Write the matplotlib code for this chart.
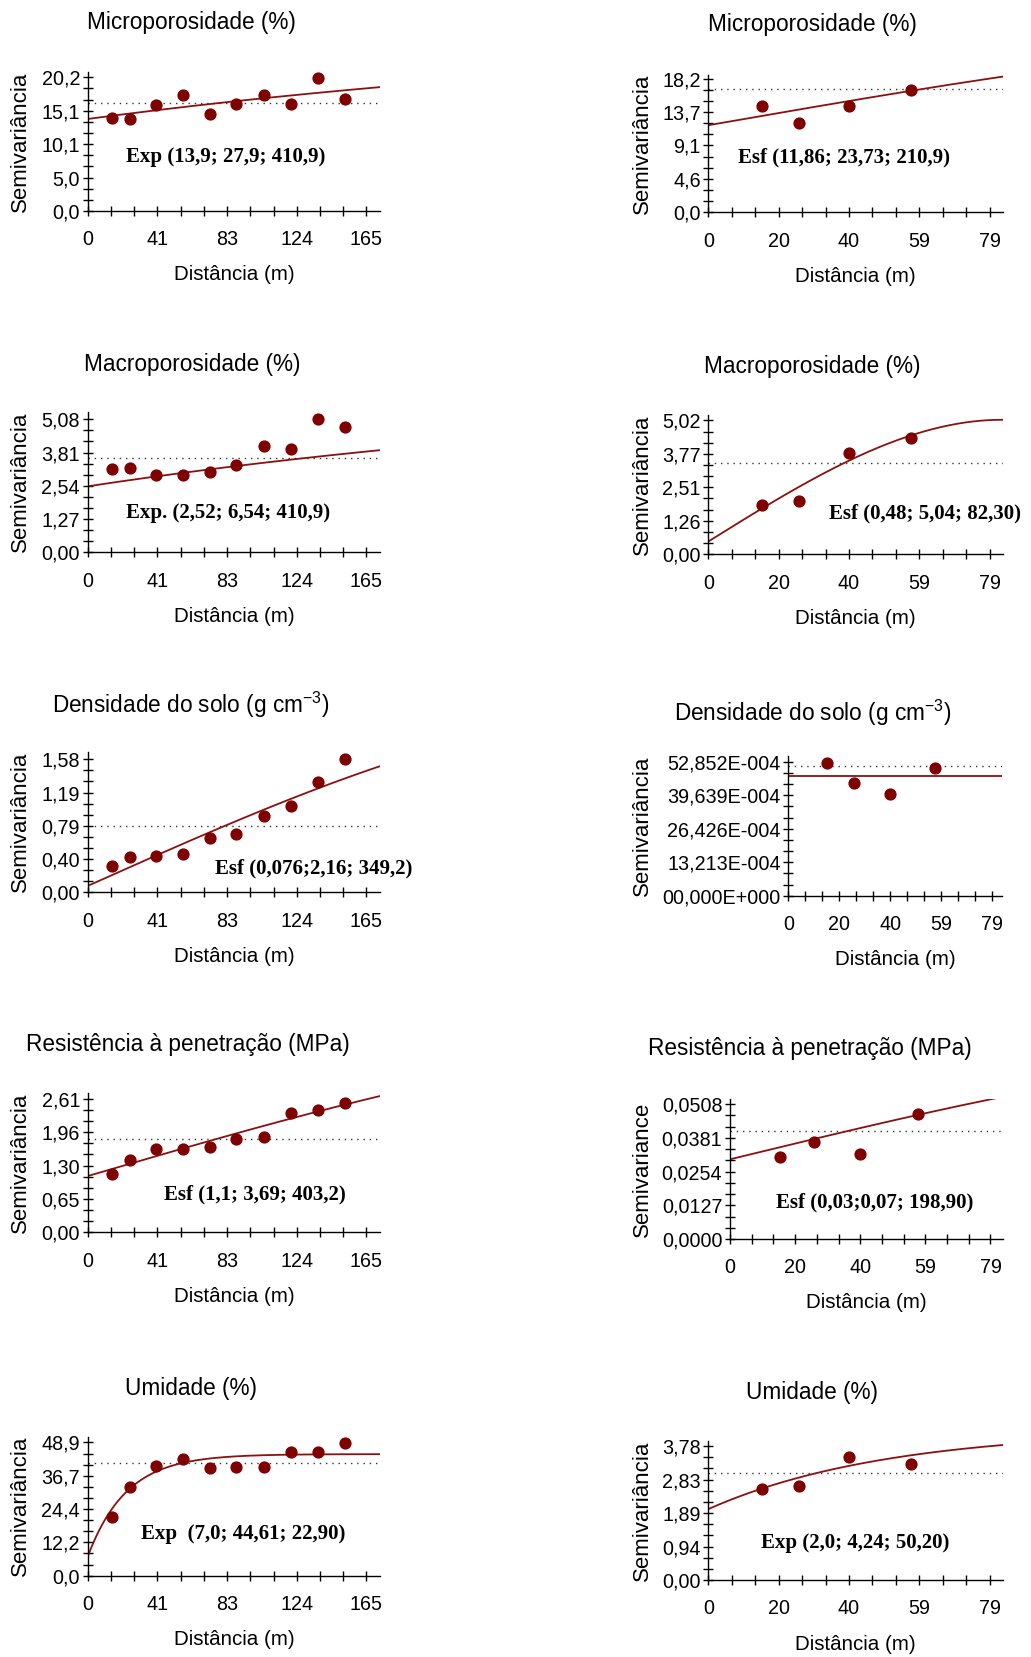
import numpy as np
import matplotlib
matplotlib.use("Agg")
import matplotlib.pyplot as plt

plt.rcParams["font.family"] = ["Liberation Sans", "DejaVu Sans"]
plt.rcParams["mathtext.fontset"] = "custom"
plt.rcParams["mathtext.rm"] = "Liberation Sans"

# ---- lag distances (m) ----
lag_esq = [14.5, 25.0, 40.5, 56.2, 72.2, 88.0, 104.2, 120.5, 136.2, 152.0]
lag_dir = [15.1, 25.4, 39.5, 57.0]

# ---- experimental semivariances ----
micro_esq = [14.1, 13.85, 15.97, 17.48, 14.66, 16.17, 17.48, 16.17, 20.1, 16.93]
micro_dir = [14.48, 12.12, 14.48, 16.66]
macro_esq = [3.17, 3.21, 2.96, 2.96, 3.07, 3.32, 4.06, 3.94, 5.08, 4.78]
macro_dir = [1.86, 2.01, 3.78, 4.37]
dens_esq = [0.316, 0.415, 0.435, 0.458, 0.640, 0.688, 0.905, 1.028, 1.316, 1.589]
dens_dir = [52.5e-4, 44.6e-4, 40.0e-4, 50.2e-4]
rp_esq = [1.14, 1.415, 1.63, 1.63, 1.676, 1.82, 1.87, 2.33, 2.39, 2.52]
rp_dir = [0.0310, 0.0366, 0.0319, 0.0469]
umid_esq = [21.6, 32.6, 40.2, 42.8, 39.4, 40.0, 40.0, 45.5, 45.5, 48.8]
umid_dir = [2.57, 2.66, 3.48, 3.27]

# ---- sample variance (dotted reference line) ----
variancias = [16.37, 16.8, 3.62, 3.43, 0.79, 51.3e-4, 1.82, 0.0406, 41.2, 3.01]

# ---- fitted models: (type, nugget, sill, range) ----
modelos = [
    ("exp", 13.9, 27.9, 410.9),
    ("sph", 11.86, 23.73, 210.9),
    ("exp", 2.52, 6.54, 410.9),
    ("sph", 0.48, 5.04, 82.30),
    ("sph", 0.076, 2.16, 349.2),
    ("nug", 47.2e-4, 47.2e-4, 0.0),
    ("sph", 1.1, 3.69, 403.2),
    ("sph", 0.03, 0.07, 198.90),
    ("exp", 7.0, 44.61, 22.90),
    ("exp", 2.0, 4.24, 50.20),
]
rotulos_modelo = [
    "Exp (13,9; 27,9; 410,9)",
    "Esf (11,86; 23,73; 210,9)",
    "Exp. (2,52; 6,54; 410,9)",
    "Esf (0,48; 5,04; 82,30)",
    "Esf (0,076;2,16; 349,2)",
    None,
    "Esf (1,1; 3,69; 403,2)",
    "Esf (0,03;0,07; 198,90)",
    "Exp  (7,0; 44,61; 22,90)",
    "Exp (2,0; 4,24; 50,20)",
]

titulos = [
    "Microporosidade (%)", "Microporosidade (%)",
    "Macroporosidade (%)", "Macroporosidade (%)",
    r"Densidade do solo (g cm$^{\mathregular{-3}}$)", r"Densidade do solo (g cm$^{\mathregular{-3}}$)",
    "Resistência à penetração (MPa)", "Resistência à penetração (MPa)",
    "Umidade (%)", "Umidade (%)",
]
ylabels = ["Semivariância"] * 7 + ["Semivariance"] + ["Semivariância"] * 2

# y tick labels (five per panel, evenly spaced up to the top label)
ytick_labels = [
    ["0,0", "5,0", "10,1", "15,1", "20,2"],
    ["0,0", "4,6", "9,1", "13,7", "18,2"],
    ["0,00", "1,27", "2,54", "3,81", "5,08"],
    ["0,00", "1,26", "2,51", "3,77", "5,02"],
    ["0,00", "0,40", "0,79", "1,19", "1,58"],
    ["00,000E+000", "13,213E-004", "26,426E-004", "39,639E-004", "52,852E-004"],
    ["0,00", "0,65", "1,30", "1,96", "2,61"],
    ["0,0000", "0,0127", "0,0254", "0,0381", "0,0508"],
    ["0,0", "12,2", "24,4", "36,7", "48,9"],
    ["0,00", "0,94", "1,89", "2,83", "3,78"],
]
ytick_max = [20.2, 18.2, 5.08, 5.02, 1.58, 52.852e-4, 2.61, 0.0508, 48.9, 3.78]
ylim_top = [21.04, 18.7, 5.37, 5.22, 1.67, 55.1e-4, 2.73, 0.0527, 51.0, 3.93]

xtick_esq = ["0", "41", "83", "124", "165"]
xtick_dir = ["0", "20", "40", "59", "79"]
xmax_tick_esq, xmax_tick_dir = 165.0, 79.0
xlim_esq, xlim_dir = 173.0, 82.8

dados = [
    (lag_esq, micro_esq), (lag_dir, micro_dir),
    (lag_esq, macro_esq), (lag_dir, macro_dir),
    (lag_esq, dens_esq), (lag_dir, dens_dir),
    (lag_esq, rp_esq), (lag_dir, rp_dir),
    (lag_esq, umid_esq), (lag_dir, umid_dir),
]

# ---- layout in pixels: (left, right, top, bottom) of each plot area ----
W, H = 1031, 1657
caixas = [
    (87.7, 380, 71.7, 211), (708.3, 1003.3, 75, 212.3),
    (87.7, 380, 411.7, 552.3), (708.3, 1003.3, 415, 554.3),
    (87.7, 380, 751.7, 892.3), (788.3, 1001.7, 756, 895.7),
    (87.7, 380, 1092.7, 1232.3), (730, 1003, 1099, 1239),
    (87.7, 380, 1436.7, 1575.7), (708.3, 1003.3, 1440.7, 1580),
]
pos_titulo = [(191, 23), (812, 25), (192, 365), (812, 367), (191, 705), (813, 713),
              (188, 1045), (810, 1048), (191, 1388), (812, 1393)]
pos_rotulo = [(126, 157), (738, 157), (126, 513), (829, 513), (215, 868), None,
              (164, 1194), (776, 1202), (141, 1534), (761, 1543)]
ylabel_x = [20, 642]

COR_PONTO = "#7f0000"
COR_LINHA = "#8b1010"


def semivariograma(tipo, c0, sill, a, h):
    c = sill - c0
    if tipo == "exp":
        return c0 + c * (1.0 - np.exp(-h / a))
    if tipo == "sph":
        r = np.clip(h / a, 0, 1)
        return c0 + c * (1.5 * r - 0.5 * r ** 3)
    return np.full_like(h, c0)


fig = plt.figure(figsize=(W / 100, H / 100), dpi=100)

for i in range(10):
    l, r, t, b = caixas[i]
    ax = fig.add_axes([l / W, 1 - b / H, (r - l) / W, (b - t) / H])
    direita = i % 2 == 1
    xlim = xlim_dir if direita else xlim_esq
    xmax_tick = xmax_tick_dir if direita else xmax_tick_esq
    xlabs = xtick_dir if direita else xtick_esq

    ax.set_xlim(0, xlim)
    ax.set_ylim(0, ylim_top[i])

    # fitted model
    h = np.linspace(0, xlim, 400)
    tipo, c0, sill, a = modelos[i]
    ax.plot(h, semivariograma(tipo, c0, sill, a, h), color=COR_LINHA, lw=1.3, zorder=2)

    # sample variance
    ax.axhline(variancias[i], color="#333333", lw=1.0, ls=(0, (1, 3.5)), zorder=1)

    # experimental semivariances
    x, y = dados[i]
    ax.plot(x, y, "o", color=COR_PONTO, ms=7.8, zorder=3, clip_on=False)

    # axes styling
    for s in ("top", "right"):
        ax.spines[s].set_visible(False)
    for s in ("left", "bottom"):
        ax.spines[s].set_color("black")
        ax.spines[s].set_linewidth(1.0)

    xmaj = np.linspace(0, xmax_tick, 5)
    ax.set_xticks(xmaj)
    ax.set_xticklabels(xlabs)
    ax.set_xticks(np.arange(0, xlim, xmax_tick / 12), minor=True)
    ymaj = np.linspace(0, ytick_max[i], 5)
    ax.set_yticks(ymaj)
    ax.set_yticklabels(ytick_labels[i])
    ax.set_yticks(np.arange(0, ylim_top[i], ytick_max[i] / 12), minor=True)
    ax.tick_params(axis="both", which="both", direction="inout", length=7, width=1,
                   color="black", labelsize=14.2)
    ax.tick_params(axis="x", which="major", pad=10.5)
    ax.tick_params(axis="y", which="major", pad=2)

    hpx = b - t
    wpx = r - l
    ax.set_xlabel("Distância (m)", fontsize=14.8, va="center")
    ax.xaxis.set_label_coords(0.5, -64 / hpx)
    ax.set_ylabel(ylabels[i], fontsize=16, va="center")
    lx = ylabel_x[1] if direita else ylabel_x[0]
    ax.yaxis.set_label_coords((lx - l) / wpx, 0.5)

    tx, ty = pos_titulo[i]
    fig.text(tx / W, 1 - ty / H, titulos[i], ha="center", va="center", fontsize=16.3)

    if rotulos_modelo[i] is not None:
        px, py = pos_rotulo[i]
        fig.text(px / W, 1 - py / H, rotulos_modelo[i], ha="left", va="center",
                 family=["Liberation Serif", "DejaVu Serif"], weight="bold", fontsize=15)

fig.savefig("out.png", dpi=100, facecolor="white")
